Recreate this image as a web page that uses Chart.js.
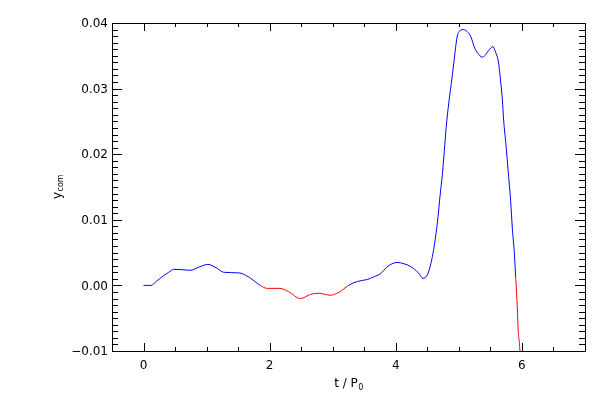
<!DOCTYPE html>
<html>
<head>
<meta charset="utf-8">
<script src="https://cdn.jsdelivr.net/npm/chart.js@4/dist/chart.umd.min.js"></script>
<style>
html,body{margin:0;padding:0;background:#fff;}
canvas{display:block;}
</style>
</head>
<body>
<canvas id="c" width="600" height="400" style="width:600px;height:400px"></canvas>
<script>
// ---- data ----
const tValues = [0, 0.12, 0.2, 0.32, 0.4, 0.48, 0.61, 0.74, 0.88, 1.02, 1.15, 1.27, 1.52, 1.68, 1.85, 1.96, 2.16, 2.3, 2.49, 2.65, 2.78, 2.96, 3.1, 3.25, 3.39, 3.55, 3.65, 3.76, 3.86, 4.02, 4.13, 4.23, 4.36, 4.43, 4.50, 4.55, 4.59, 4.63, 4.67, 4.70, 4.74, 4.77, 4.80, 4.84, 4.88, 4.92, 4.95, 4.98, 5.03, 5.07, 5.13, 5.19, 5.25, 5.30, 5.37, 5.42, 5.47, 5.54, 5.58, 5.63, 5.66, 5.69, 5.71, 5.75, 5.78, 5.82, 5.85, 5.88, 5.90, 5.91, 5.93, 5.94, 5.96, 5.97];
const yValues = [0, 0, 0.0006, 0.0015, 0.002, 0.00245, 0.0024, 0.0023, 0.0028, 0.0032, 0.0027, 0.002, 0.0019, 0.0012, 0, -0.00045, -0.00045, -0.00096, -0.002, -0.00136, -0.0012, -0.0015, -0.00105, 0, 0.0006, 0.0009, 0.0013, 0.0018, 0.0028, 0.0035, 0.0033, 0.0029, 0.0019, 0.00108, 0.0016, 0.0031, 0.0049, 0.0074, 0.0105, 0.0135, 0.0171, 0.0206, 0.0242, 0.0278, 0.0308, 0.0339, 0.0364, 0.0382, 0.0389, 0.0390, 0.0387, 0.0379, 0.0362, 0.0354, 0.0348, 0.0351, 0.0358, 0.0364, 0.0356, 0.0339, 0.0313, 0.0283, 0.0252, 0.0211, 0.0176, 0.0130, 0.0084, 0.0049, 0.0013, -0.0002, -0.0043, -0.0068, -0.0088, -0.0103];
const xTickValues = [0, 2, 4, 6];
const xTickLabels = ['0', '2', '4', '6'];
const yTickValues = [-0.01, 0, 0.01, 0.02, 0.03, 0.04];
const yTickLabels = ['\u22120.01', '0.00', '0.01', '0.02', '0.03', '0.04'];
const xMinorStep = 0.5;
const yMinorStep = 0.001;
const xRange = [-0.5, 7];
const yRange = [-0.01, 0.04];

const FONT = 'DejaVu Sans';
const BLUE = '#0000ff', RED = '#ff0000';

const points = tValues.map((t, i) => ({x: t, y: yValues[i]}));

const boxPlugin = {
  id: 'idlbox',
  afterDraw(chart) {
    const ctx = chart.ctx, a = chart.chartArea;
    const xs = chart.scales.x, ys = chart.scales.y;
    ctx.save();
    ctx.strokeStyle = '#000';
    ctx.lineWidth = 1;
    ctx.beginPath();
    ctx.rect(Math.round(a.left) + 0.5, Math.round(a.top) + 0.5, Math.round(a.right - a.left), Math.round(a.bottom - a.top));
    ctx.stroke();
    ctx.beginPath();
    // x ticks
    const nx = Math.round((xRange[1] - xRange[0]) / xMinorStep);
    for (let i = 0; i <= nx; i++) {
      const v = xRange[0] + i * xMinorStep;
      const major = xTickValues.some(m => Math.abs(m - v) < 1e-9);
      const len = major ? 8 : 4;
      const px = Math.round(xs.getPixelForValue(v)) + 0.5;
      ctx.moveTo(px, a.bottom); ctx.lineTo(px, a.bottom - len);
      ctx.moveTo(px, a.top); ctx.lineTo(px, a.top + len);
    }
    // y ticks
    const ny = Math.round((yRange[1] - yRange[0]) / yMinorStep);
    for (let i = 0; i <= ny; i++) {
      const v = yRange[0] + i * yMinorStep;
      const major = yTickValues.some(m => Math.abs(m - v) < 1e-9);
      const len = major ? 10 : 6;
      const py = Math.round(ys.getPixelForValue(v)) + 0.5;
      ctx.moveTo(a.left, py); ctx.lineTo(a.left + len, py);
      ctx.moveTo(a.right, py); ctx.lineTo(a.right - len, py);
    }
    ctx.stroke();

    // axis titles
    ctx.fillStyle = '#000';
    ctx.textBaseline = 'alphabetic';
    ctx.textAlign = 'left';
    // x title: t / P0
    const main = 't / P';
    ctx.font = '12px "' + FONT + '"';
    const w1 = ctx.measureText(main).width;
    ctx.font = '8px "' + FONT + '"';
    const w2 = ctx.measureText('0').width;
    const cx = (a.left + a.right) / 2;
    const x0 = cx - (w1 + w2) / 2;
    ctx.font = '12px "' + FONT + '"';
    ctx.fillText(main, x0, 387);
    ctx.font = '8px "' + FONT + '"';
    ctx.fillText('0', x0 + w1 + 0.5, 390);

    // y title: y_com rotated
    ctx.save();
    const cy = (a.top + a.bottom) / 2;
    ctx.translate(61, cy);
    ctx.rotate(-Math.PI / 2);
    ctx.font = '12px "' + FONT + '"';
    const wy = ctx.measureText('y').width;
    ctx.font = '8px "' + FONT + '"';
    const wc = ctx.measureText('com').width;
    const sx = -(wy + wc) / 2;
    ctx.font = '12px "' + FONT + '"';
    ctx.fillText('y', sx, 0);
    ctx.font = '8px "' + FONT + '"';
    ctx.fillText('com', sx + wy + 0.5, 2);
    ctx.restore();
    ctx.restore();
  }
};

new Chart(document.getElementById('c'), {
  type: 'line',
  data: {
    datasets: [{
      data: points,
      borderWidth: 1,
      pointRadius: 0,
      cubicInterpolationMode: 'monotone',
      borderColor: BLUE,
      segment: {
        borderColor: c => (c.p0.parsed.y < 0 || c.p1.parsed.y < 0) ? RED : BLUE
      }
    }]
  },
  plugins: [boxPlugin],
  options: {
    responsive: false,
    animation: false,
    devicePixelRatio: 1,
    layout: {padding: {top: 23, right: 15, left: 0, bottom: 0}},
    plugins: {legend: {display: false}, tooltip: {enabled: false}},
    scales: {
      x: {
        type: 'linear', min: xRange[0], max: xRange[1],
        grid: {display: false, drawTicks: false},
        border: {display: false},
        afterBuildTicks: s => { s.ticks = xTickValues.map(v => ({value: v})); },
        afterFit: s => { s.height = 49; },
        ticks: {
          autoSkip: false, maxRotation: 0, padding: 8, color: '#000',
          font: {family: FONT, size: 12},
          callback: (v) => { const i = xTickValues.indexOf(v); return i >= 0 ? xTickLabels[i] : ''; }
        }
      },
      y: {
        type: 'linear', min: yRange[0], max: yRange[1],
        grid: {display: false, drawTicks: false},
        border: {display: false},
        afterBuildTicks: s => { s.ticks = yTickValues.map(v => ({value: v})); },
        afterFit: s => { s.width = 112; },
        ticks: {
          autoSkip: false, padding: 4, color: '#000', labelOffset: 1,
          font: {family: FONT, size: 12},
          callback: (v) => { const i = yTickValues.findIndex(m => Math.abs(m - v) < 1e-9); return i >= 0 ? yTickLabels[i] : ''; }
        }
      }
    }
  }
});
</script>
</body>
</html>
